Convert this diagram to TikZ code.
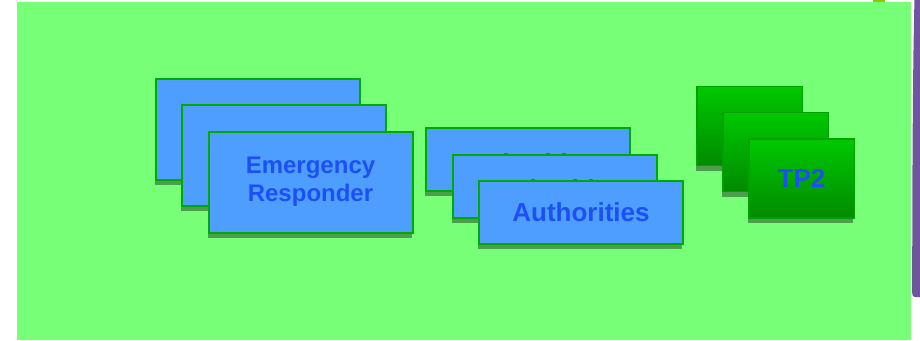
\documentclass[tikz,border=0pt]{standalone}
\usepackage{fontspec}
\setmainfont{Liberation Sans}
\usetikzlibrary{shadows}
\definecolor{bggreen}{RGB}{120,255,120}
\definecolor{boxblue}{RGB}{77,158,255}
\definecolor{edgegreen}{RGB}{0,170,0}
\definecolor{tpedge}{RGB}{0,160,0}
\definecolor{tptop}{RGB}{0,200,0}
\definecolor{tpbottom}{RGB}{0,138,0}
\definecolor{shadowgreen}{RGB}{76,158,76}
\definecolor{labelblue}{RGB}{28,80,245}
\definecolor{bandpurple}{RGB}{111,85,155}
\definecolor{tabolive}{RGB}{140,200,0}
\tikzset{
  stackshadow/.style={drop shadow={shadow xshift=-1pt, shadow yshift=-5pt, fill=shadowgreen, opacity=1}},
  bluecard/.style={draw=edgegreen, line width=2pt, fill=boxblue, minimum width=204pt,
    stackshadow, inner sep=0pt, text=labelblue},
  authcard/.style={bluecard, minimum height=63pt, font=\fontsize{26}{30}\selectfont\bfseries,
    text height=18.6pt, text depth=0pt},
  authback/.style={authcard, text height=25pt},
  tpcard/.style={draw=tpedge, line width=1.5pt, top color=tptop, bottom color=tpbottom,
    minimum width=105.5pt, minimum height=79pt, stackshadow, inner sep=0pt, text=labelblue},
}
\begin{document}
\begin{tikzpicture}[x=1pt, y=-1pt]
\useasboundingbox (0,0) rectangle (920,340);
% backdrop
\fill[tabolive] (873,0) rectangle (885,4);
\fill[bggreen] (17,2) rectangle (911,340);
\fill[bandpurple]
  (921,-1) -- (914.5,-1) .. controls (912.8,60) and (912.2,180) .. (912.2,293)
  .. controls (912.2,296) and (913,297) .. (915,297) -- (921,297) -- cycle;
% emergency responder stack
\node[bluecard, minimum height=101pt] (er1) at (257.5,129) {};
\node[bluecard, minimum height=101pt] (er2) at (284,155) {};
\node[bluecard, minimum height=101pt, align=center, font=\fontsize{24}{28}\selectfont\bfseries] (er3) at (310.5,182) {Emergency\\Responder};
% authorities stack
\node[authback] (au1) at (528,159.5) {Authorities};
\node[authback] (au2) at (555,186) {Authorities};
\node[authcard] (au3) at (581,212.5) {Authorities};
% TP2 stack
\node[tpcard] (tp1) at (749.5,126) {};
\node[tpcard] (tp2) at (775.5,152) {};
\node[tpcard, font=\fontsize{26}{30}\selectfont\bfseries, text height=18.6pt, text depth=0pt] (tp3) at (801.5,178.5) {TP2};
\end{tikzpicture}
\end{document}
